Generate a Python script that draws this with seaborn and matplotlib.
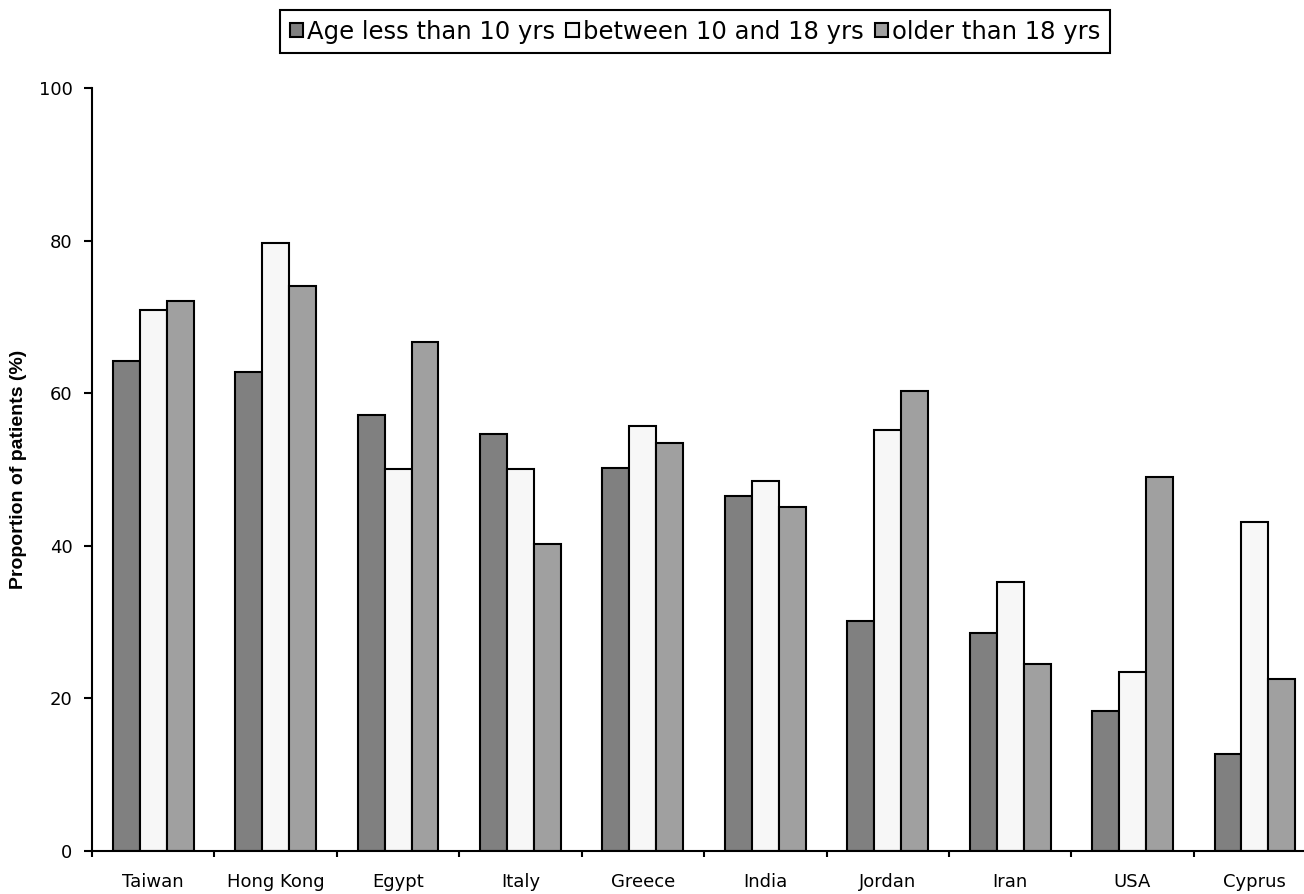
import numpy as np
import pandas as pd
import matplotlib
matplotlib.use('Agg')
import matplotlib.pyplot as plt
import seaborn as sns

# Values (proportion of patients, %)
countries = ['Taiwan', 'Hong Kong', 'Egypt', 'Italy', 'Greece',
             'India', 'Jordan', 'Iran', 'USA', 'Cyprus']
groups = ['Age less than 10 yrs', 'between 10 and 18 yrs', 'older than 18 yrs']
under_10 = [64.2, 62.8, 57.1, 54.7, 50.2, 46.5, 30.1, 28.6, 18.3, 12.7]
between_10_18 = [70.9, 79.7, 50.1, 50.1, 55.7, 48.5, 55.2, 35.3, 23.5, 43.1]
over_18 = [72.1, 74.0, 66.7, 40.2, 53.5, 45.1, 60.3, 24.5, 49.0, 22.5]
bar_colors = ['#808080', '#f7f7f7', '#a0a0a0']

# Build a long dataframe for seaborn:
df = pd.DataFrame({
    'country': countries * 3,
    'group': [groups[0]] * 10 + [groups[1]] * 10 + [groups[2]] * 10,
    'value': under_10 + between_10_18 + over_18,
})

sns.set_style('white')
plt.rcParams['font.family'] = ['DejaVu Sans']
# Plain black text everywhere, as in the reference:
for key in ['text.color', 'axes.labelcolor', 'xtick.color', 'ytick.color']:
    plt.rcParams[key] = 'black'

fig = plt.figure(figsize=(13.04, 8.94), dpi=100)
# Axes run slightly past the right edge, as in the reference
ax = fig.add_axes([0.0706, 0.0481, 0.9387, 0.8535])

sns.barplot(data=df, x='country', y='value', hue='group', order=countries,
            hue_order=groups, palette=bar_colors, saturation=1, width=0.66,
            edgecolor='black', linewidth=1.5, ax=ax)

ax.set_xlim(-0.5, 9.5)
ax.set_ylim(0, 100)
ax.set_yticks([0, 20, 40, 60, 80, 100])
for side in ['top', 'right']:
    ax.spines[side].set_visible(False)
for side in ['left', 'bottom']:
    ax.spines[side].set_color('black')
    ax.spines[side].set_linewidth(1.5)

# Category labels in the centre, tick marks between categories:
ax.set_xticks(range(len(countries)))
ax.set_xticklabels(countries)
ax.set_xticks(np.arange(-0.5, len(countries), 1), minor=True)
ax.tick_params(axis='x', which='major', length=0, pad=16, labelsize=13)
ax.tick_params(axis='x', which='minor', bottom=True, direction='out',
               length=4.5, width=1.5, color='black')
ax.tick_params(axis='y', left=True, direction='out', length=6, width=1.5,
               color='black', labelsize=13, pad=8)

ax.set_xlabel('')
ax.set_ylabel('Proportion of patients (%)', fontsize=14, fontweight='bold',
              family=['Liberation Sans', 'DejaVu Sans'])
ax.yaxis.set_label_coords(-0.053, 0.5)

# Legend boxed across the top:
handles, labels = ax.get_legend_handles_labels()
ax.legend(handles, labels, loc='upper center', bbox_to_anchor=(0.533, 0.989),
          bbox_transform=fig.transFigure, ncol=3, frameon=True,
          fancybox=False, edgecolor='black', framealpha=1, fontsize=17.5,
          handlelength=0.55, handleheight=0.55, handletextpad=0.15,
          columnspacing=0.45, borderpad=0.4, borderaxespad=0)
ax.get_legend().get_frame().set_linewidth(1.5)

plt.savefig('out.png', dpi=100)
